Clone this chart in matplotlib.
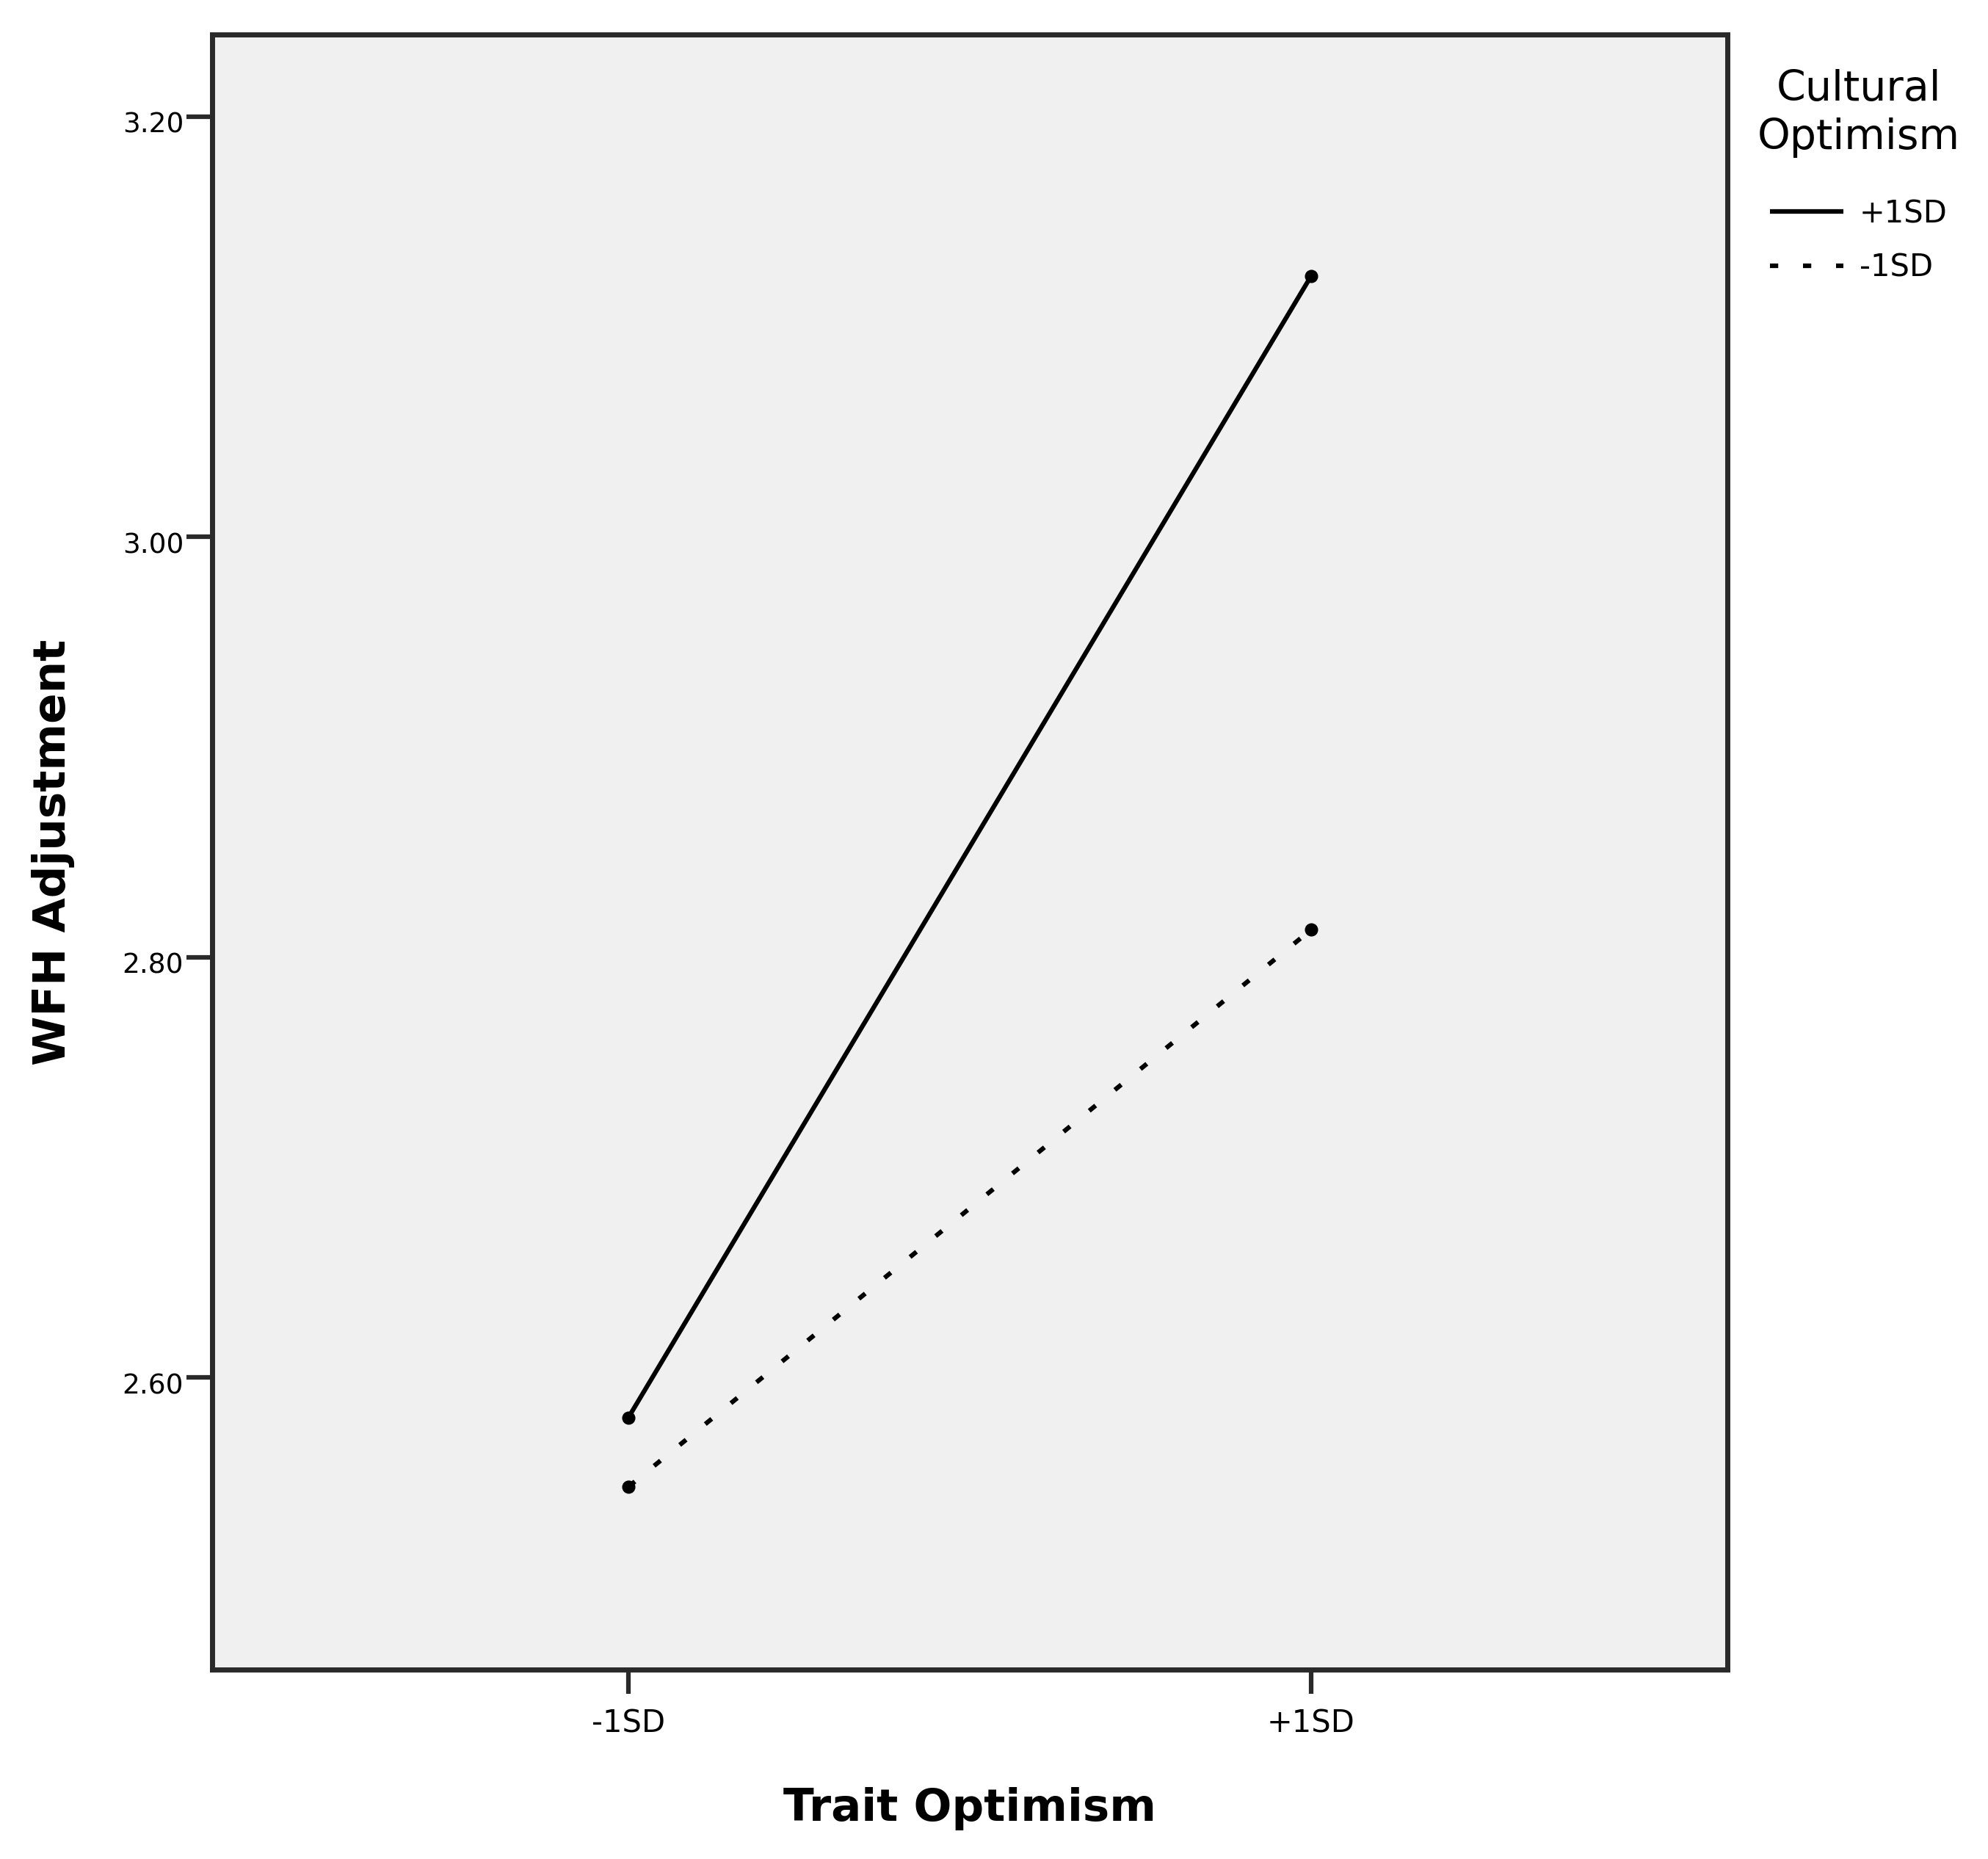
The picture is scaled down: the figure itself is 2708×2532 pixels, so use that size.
import matplotlib
matplotlib.use("Agg")
from matplotlib import pyplot as plt
from matplotlib.transforms import ScaledTranslation

# data
trait_levels = ["-1SD", "+1SD"]
high_cultural = [2.581, 3.124]   # Cultural Optimism +1SD
low_cultural = [2.548, 2.813]    # Cultural Optimism -1SD
y_ticks = [2.60, 2.80, 3.00, 3.20]
y_tick_labels = ["2.60", "2.80", "3.00", "3.20"]

plt.rcParams['font.family'] = ['DejaVu Sans']

fig = plt.figure(figsize=(27.08, 25.32), dpi=100)
ax = fig.add_axes([289 / 2708, 1 - 2274 / 2532, 2064 / 2708, 2227 / 2532])
ax.set_facecolor('#f0f0f0')

x = list(range(len(trait_levels)))
ax.plot(x, high_cultural, color='black', lw=4.5, marker='o', markersize=12,
        solid_capstyle='butt', label='+1SD')
ax.plot(x, low_cultural, color='black', lw=4.5, linestyle=(0, (1.8, 5.4)),
        marker='o', markersize=12, label='-1SD')

ax.set_xlim(-0.61, 1.61)
ax.set_ylim(2.461, 3.239)
ax.set_xticks(x)
ax.set_xticklabels(trait_levels)
ax.set_yticks(y_ticks)
ax.set_yticklabels(y_tick_labels)

for side in ax.spines.values():
    side.set_linewidth(5)
    side.set_color('#2a2a2a')

ax.tick_params(axis='y', direction='out', length=25, width=4.5, color='#2a2a2a',
               labelsize=27, pad=3)
ax.tick_params(axis='x', direction='out', length=24, width=4.5, color='#2a2a2a',
               labelsize=30, pad=14)

# SPSS draws the y labels a bit below their ticks
shift = ScaledTranslation(0, -6 / 72, fig.dpi_scale_trans)
for lbl in ax.get_yticklabels():
    lbl.set_transform(lbl.get_transform() + shift)

ax.set_xlabel('Trait Optimism', fontsize=44, fontweight='bold')
ax.set_ylabel('WFH Adjustment', fontsize=44, fontweight='bold')
ax.yaxis.label.set_va('center')
ax.xaxis.set_label_coords(0.5, -0.0719)
ax.yaxis.set_label_coords(-0.1050, 0.5)

# legend title and entries, centred on the same column right of the plot
fig.text(2532 / 2708, 1 - 94 / 2532, 'Cultural\nOptimism', fontsize=41,
         ha='center', va='top', multialignment='center', linespacing=1.25)
leg = ax.legend(loc='upper center', bbox_to_anchor=(2532 / 2708, 1 - 270 / 2532),
                bbox_transform=fig.transFigure, frameon=False, fontsize=30,
                handlelength=2.4, handletextpad=0.53, labelspacing=0.75,
                borderpad=0, borderaxespad=0)
for h in leg.legend_handles:
    h.set_marker('')

fig.savefig('out.png', dpi=100, facecolor='white')
